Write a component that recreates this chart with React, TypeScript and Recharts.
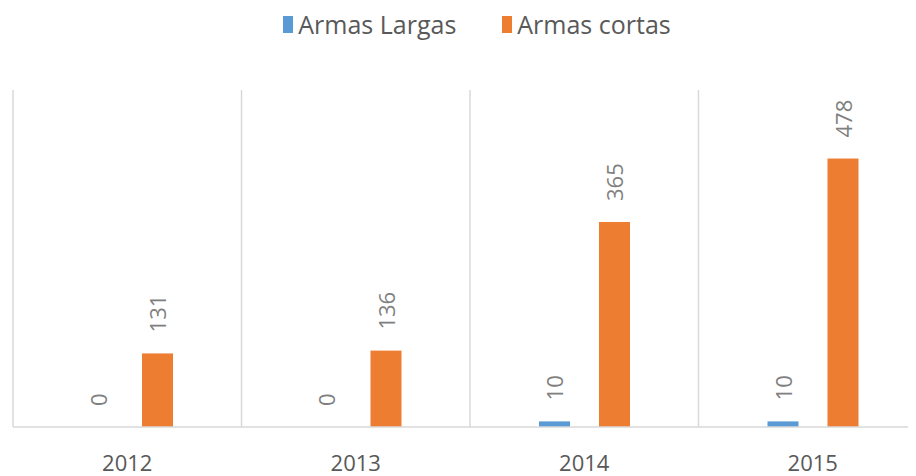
import { BarChart, Bar, XAxis, YAxis, CartesianGrid, Legend } from "recharts";

const years = ["2012", "2013", "2014", "2015"];
const armasLargas = [0, 0, 10, 10];
const armasCortas = [131, 136, 365, 478];

const data = years.map((year, i) => ({
  year,
  largas: armasLargas[i],
  cortas: armasCortas[i],
}));

const series = [
  { key: "largas", name: "Armas Largas", color: "#5B9BD5" },
  { key: "cortas", name: "Armas cortas", color: "#ED7D31" },
];

const FONT = "'Open Sans', sans-serif";

function LegendContent() {
  return (
    <div style={{ height: 82, display: "flex", justifyContent: "center", alignItems: "flex-start", paddingLeft: 14, fontFamily: FONT }}>
      {series.map((s, i) => (
        <div key={s.key} style={{ display: "flex", alignItems: "center", height: 32, marginLeft: i ? 46 : 0 }}>
          <span style={{ width: 10, height: 17, background: s.color, marginRight: 5, display: "inline-block" }} />
          <span style={{ fontSize: 25, lineHeight: "32px", color: "#595959", whiteSpace: "nowrap" }}>{s.name}</span>
        </div>
      ))}
    </div>
  );
}

// bar + rotated value label; drawn through shape so zero bars still get their "0"
function BarWithLabel(props: any) {
  const { x, y, width, height, fill, value } = props;
  const cx = x + width / 2;
  const cy = y - 21;
  const v = Array.isArray(value) ? value[1] - value[0] : value;
  return (
    <g>
      {height > 0 && <rect x={x} y={y} width={width} height={height} fill={fill} />}
      <text
        x={cx}
        y={cy}
        transform={`rotate(-90 ${cx} ${cy})`}
        textAnchor="start"
        dominantBaseline="central"
        fontFamily={FONT}
        fontSize={22}
        fill="#7f7f7f"
      >
        {v}
      </text>
    </g>
  );
}

export default function App() {
  return (
    <div style={{ width: 908, height: 468, overflow: "hidden" }}>
      <BarChart
        width={925}
        height={468}
        data={data}
        margin={{ top: 0, right: 6, bottom: 0, left: 5 }}
        barGap={29}
        barSize={31}
      >
        <CartesianGrid
          horizontal={false}
          stroke="#d9d9d9"
          strokeWidth={1.5}
          verticalCoordinatesGenerator={({ offset }: any) =>
            [0, 1, 2, 3, 4].map((i) => offset.left + (i * offset.width) / 4)
          }
        />
        <XAxis
          dataKey="year"
          height={49}
          tickSize={0}
          tickMargin={28}
          axisLine={{ stroke: "#d9d9d9", strokeWidth: 1.5 }}
          tickLine={false}
          tick={{ fontFamily: FONT, fontSize: 22, fill: "#595959" }}
        />
        <YAxis hide domain={[0, 600]} />
        <Legend verticalAlign="top" content={<LegendContent />} />
        {series.map((s) => (
          <Bar
            key={s.key}
            dataKey={s.key}
            name={s.name}
            fill={s.color}
            isAnimationActive={false}
            shape={(p: any) => <BarWithLabel {...p} />}
          />
        ))}
      </BarChart>
    </div>
  );
}
